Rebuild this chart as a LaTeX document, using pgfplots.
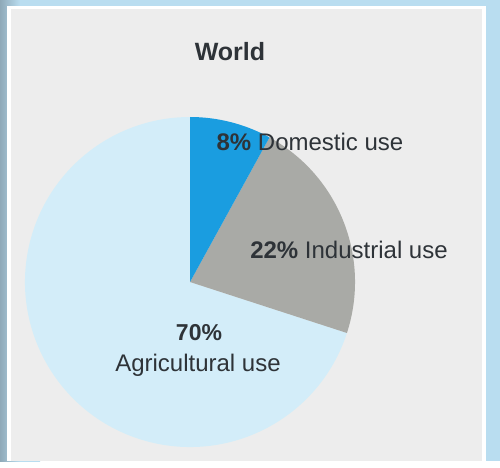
\documentclass[border=0pt]{standalone}
\usepackage{pgfplots}
\pgfplotsset{compat=1.18}
\usepackage{pgfplotstable}
\usepackage{fontspec}
\setmainfont{Liberation Sans}
\definecolor{outerbg}{HTML}{B9DDF0}
\definecolor{outerdark}{HTML}{8FA9B8}
\definecolor{panel}{HTML}{EDEDED}
\definecolor{domestic}{HTML}{1A9DE0}
\definecolor{industrial}{HTML}{A9AAA6}
\definecolor{agri}{HTML}{D3EDF9}
\definecolor{txt}{HTML}{2E3338}
% share of world water withdrawals (percent)
\pgfplotstableread{
use value
Domestic 8
Industrial 22
Agricultural 70
}\usetable
\pgfplotstablegetelem{0}{value}\of\usetable \let\vDom\pgfplotsretval
\pgfplotstablegetelem{1}{value}\of\usetable \let\vInd\pgfplotsretval
\pgfplotstablegetelem{2}{value}\of\usetable \let\vAgr\pgfplotsretval
\begin{document}
\begin{tikzpicture}
\begin{axis}[
  width=500pt, height=461pt, scale only axis,
  xmin=0, xmax=500, ymin=0, ymax=461,
  hide axis, clip=false,
]
% background
\fill[left color=outerdark, right color=outerbg, middle color=outerbg] (axis cs:0,0) rectangle (axis cs:40,461);
\fill[outerbg] (axis cs:40,0) rectangle (axis cs:500,461);
\fill[white] (axis cs:7,0) rectangle (axis cs:486,455);
\fill[panel] (axis cs:11,0) rectangle (axis cs:482,452);
% pie
\pgfmathsetmacro{\aA}{90}
\pgfmathsetmacro{\aB}{90-3.6*\vDom}
\pgfmathsetmacro{\aC}{\aB-3.6*\vInd}
\pgfmathsetmacro{\aD}{\aC-3.6*\vAgr}
\fill[agri] (axis cs:190,179) -- +(\aC:165pt) arc[start angle=\aC, end angle=\aD, radius=165pt] -- cycle;
\fill[industrial] (axis cs:190,179) -- +(\aB:165pt) arc[start angle=\aB, end angle=\aC, radius=165pt] -- cycle;
\fill[domestic] (axis cs:190,179) -- +(\aA:165pt) arc[start angle=\aA, end angle=\aB, radius=165pt] -- cycle;
% labels
\node[txt, font=\fontsize{25}{28}\selectfont\bfseries] at (axis cs:230,409) {World};
\node[txt, font=\fontsize{24}{27}\selectfont] at (axis cs:310,319) {\textbf{\vDom\%} Domestic use};
\node[txt, font=\fontsize{24}{27}\selectfont] at (axis cs:349,211) {\textbf{\vInd\%} Industrial use};
\node[txt, font=\fontsize{23}{26}\selectfont\bfseries] at (axis cs:199,128) {\vAgr\%};
\node[txt, font=\fontsize{24}{27}\selectfont] at (axis cs:198,96) {Agricultural use};
\end{axis}
\end{tikzpicture}
\end{document}
